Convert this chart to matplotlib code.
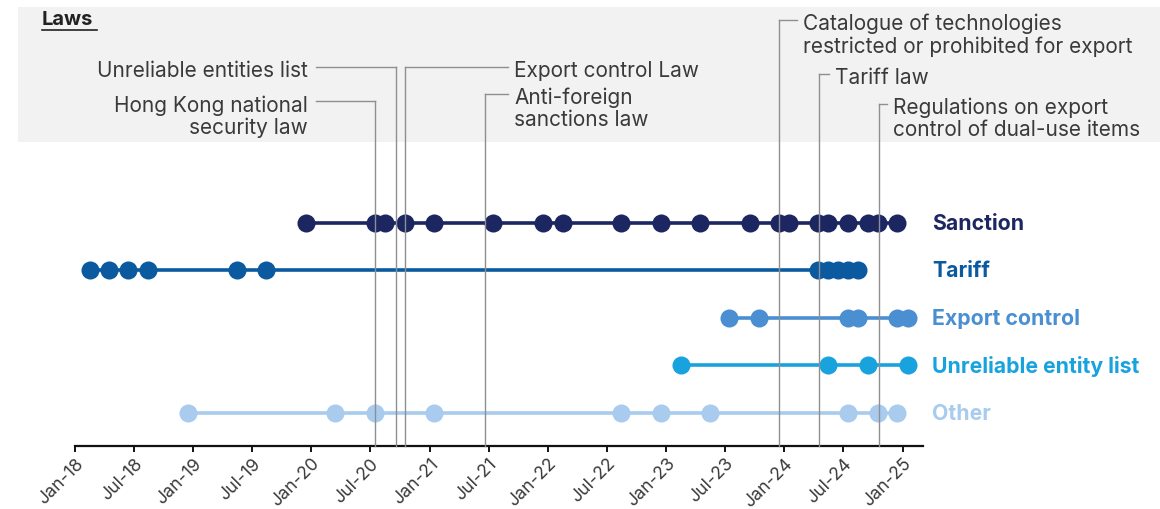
import matplotlib
matplotlib.use("Agg")
import matplotlib.pyplot as plt
import matplotlib.dates as mdates
import matplotlib.transforms as mtransforms
from matplotlib.patches import Rectangle
import numpy as np

# ---- data -----------------------------------------------------------------
categories = ["Sanction", "Tariff", "Export control", "Unreliable entity list", "Other"]

sanction = ["2019-12-15", "2020-07-15", "2020-08-15", "2020-10-15", "2021-01-15",
            "2021-07-15", "2021-12-15", "2022-02-15", "2022-08-15", "2022-12-15",
            "2023-04-15", "2023-09-15", "2023-12-15", "2024-01-15", "2024-04-15",
            "2024-05-15", "2024-07-15", "2024-09-15", "2024-10-15", "2024-12-15"]
tariff = ["2018-02-15", "2018-04-15", "2018-06-15", "2018-08-15", "2019-05-15",
          "2019-08-15", "2024-04-15", "2024-05-15", "2024-06-15", "2024-07-15",
          "2024-08-15"]
export_control = ["2023-07-15", "2023-10-15", "2024-07-15", "2024-08-15",
                  "2024-12-15", "2025-01-15"]
unreliable = ["2023-02-15", "2024-05-15", "2024-09-15", "2025-01-15"]
other = ["2018-12-15", "2020-03-15", "2020-07-15", "2021-01-15", "2022-08-15",
         "2022-12-15", "2023-05-15", "2024-07-15", "2024-10-15", "2024-12-15"]

series = [sanction, tariff, export_control, unreliable, other]

law_names = ["Hong Kong national\nsecurity law",
             "Unreliable entities list",
             "Export control Law",
             "Anti-foreign\nsanctions law",
             "Catalogue of technologies\nrestricted or prohibited for export",
             "Tariff law",
             "Regulations on export\ncontrol of dual-use items"]
law_dates = ["2020-07-15", "2020-09-19", "2020-10-17", "2021-06-20",
             "2023-12-15", "2024-04-18", "2024-10-19"]

tick_dates = [f"{y}-{m:02d}-01" for y in range(2018, 2026) for m in (1, 7)][:-1]

# ---- styling --------------------------------------------------------------
colors = ["#1c2660", "#0b5aa0", "#4a8fd2", "#19a3de", "#a8cbee"]
grey_line = "#8f8f8f"
text_col = "#3a3a3a"
W, H = 1160, 510
plt.rcParams["font.family"] = ["Inter", "DejaVu Sans"]

fig = plt.figure(figsize=(W / 100, H / 100), dpi=100)
fig.patch.set_facecolor("white")

# pixel transform with origin at the top-left of the figure
px = mtransforms.Affine2D().scale(1 / W, -1 / H).translate(0, 1) + fig.transFigure

# shaded band behind the law annotations
fig.patches.append(Rectangle((18, 8), W - 18, 135, transform=px,
                             facecolor="#f2f2f2", edgecolor="none", zorder=0))

ax_left, ax_right, ax_top, ax_bottom = 75, 923, 8, 447
ax = fig.add_axes([ax_left / W, (H - ax_bottom) / H,
                   (ax_right - ax_left) / W, (ax_bottom - ax_top) / H])
ax.patch.set_alpha(0)

to_num = lambda lst: mdates.date2num(np.array(lst, dtype="datetime64[D]"))

x0 = to_num(["2018-01-01"])[0]
x_jan25 = to_num(["2025-01-01"])[0]
span = (x_jan25 - x0) * (ax_right - ax_left) / (903 - ax_left)
ax.set_xlim(x0, x0 + span)
ax.set_ylim(4.695, -4.547)

for i, (dates, c) in enumerate(zip(series, colors)):
    xs = to_num(dates)
    ax.plot(xs, np.full(len(xs), i), color=c, lw=2.6, marker="o",
            markersize=13, markeredgewidth=0, zorder=3, solid_capstyle="butt")

row_tr = mtransforms.blended_transform_factory(ax.transAxes, ax.transData)
for i, (name, c) in enumerate(zip(categories, colors)):
    ax.text(1 + 9 / (ax_right - ax_left), i, name, transform=row_tr, color=c,
            fontsize=15.3, fontweight="bold", va="center", ha="left")

# axis styling
for s in ["top", "right", "left"]:
    ax.spines[s].set_visible(False)
ax.spines["bottom"].set_linewidth(1.6)
ax.spines["bottom"].set_color("#111111")
ax.set_yticks([])
ax.set_xticks(to_num(tick_dates))
ax.xaxis.set_major_formatter(mdates.DateFormatter("%b-%y"))
ax.tick_params(axis="x", length=4, width=1.4, color="#111111", pad=2,
               labelsize=12.8, labelcolor=text_col)
for lbl in ax.get_xticklabels():
    lbl.set_rotation(45)
    lbl.set_ha("right")
    lbl.set_va("top")
    lbl.set_rotation_mode("anchor")

# ---- law annotations ------------------------------------------------------
fig.canvas.draw()
law_px = [ax.transData.transform((d, 0))[0] for d in to_num(law_dates)]

# connector height (px from top), side of label, label anchor x (px)
law_layout = [(102, "left", 308), (68, "left", 308), (68, "right", 514),
              (95, "right", 514), (21, "right", 803), (75, "right", 835),
              (105, "right", 893)]

for name, lx, (ly, side, tx) in zip(law_names, law_px, law_layout):
    fig.add_artist(plt.Line2D([lx, lx], [ax_bottom, ly], transform=px,
                              color=grey_line, lw=1.0, zorder=1))
    if side == "left":
        fig.add_artist(plt.Line2D([tx + 8, lx], [ly, ly], transform=px,
                                  color=grey_line, lw=1.0, zorder=1))
        fig.text(tx, ly - 7, name, transform=px, ha="right", va="top",
                 multialignment="right", fontsize=15, color=text_col,
                 linespacing=1.12)
    else:
        fig.add_artist(plt.Line2D([lx, tx - 6], [ly, ly], transform=px,
                                  color=grey_line, lw=1.0, zorder=1))
        fig.text(tx, ly - 7, name, transform=px, ha="left", va="top",
                 multialignment="left", fontsize=15, color=text_col,
                 linespacing=1.12)

# section heading
fig.text(42, 20, "Laws", transform=px, ha="left", va="center",
         fontsize=14.5, fontweight="bold", color="#222222")
fig.add_artist(plt.Line2D([42, 97], [31, 31], transform=px,
                          color="#222222", lw=1.2))

fig.savefig("out.png", dpi=100)
